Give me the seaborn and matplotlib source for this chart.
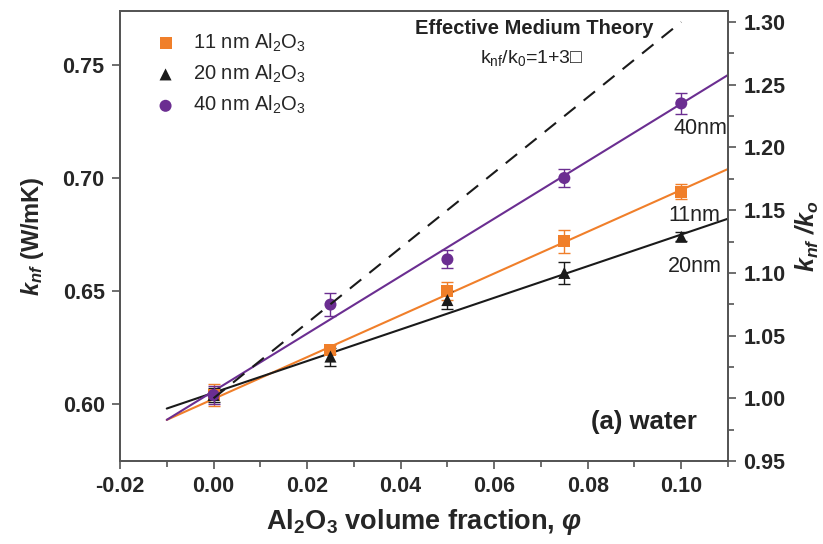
import numpy as np
import pandas as pd
import matplotlib
matplotlib.use("Agg")
import matplotlib.pyplot as plt
import seaborn as sns

# ---- data ----
phi = [0.0, 0.025, 0.05, 0.075, 0.10]
k_11 = [0.604, 0.624, 0.650, 0.672, 0.694]
k_20 = [0.604, 0.621, 0.646, 0.658, 0.674]
k_40 = [0.604, 0.644, 0.664, 0.700, 0.733]
err_11 = [0.005, 0.002, 0.004, 0.005, 0.0035]
err_20 = [0.003, 0.004, 0.004, 0.005, 0.002]
err_40 = [0.004, 0.005, 0.004, 0.004, 0.0045]

fit_x = [-0.01, 0.11]
fit_11 = [0.593, 0.704]
fit_20 = [0.598, 0.682]
fit_40 = [0.593, 0.7456]

emt_x = [0.0, 0.10]
emt_ratio = [1.0, 1.30]

labels = ["11 nm Al$_2$O$_3$", "20 nm Al$_2$O$_3$", "40 nm Al$_2$O$_3$"]
size_labels = ["11nm", "20nm", "40nm"]
x_ticks = [-0.02, 0.00, 0.02, 0.04, 0.06, 0.08, 0.10]
y_ticks = [0.60, 0.65, 0.70, 0.75]
y2_ticks = [0.95, 1.00, 1.05, 1.10, 1.15, 1.20, 1.25, 1.30]

ORANGE = "#F07F2A"
BLACK = "#1a1a1a"
PURPLE = "#6B2E91"
SPINE = "#555555"
TXT = "#222222"

sns.set_theme(style="ticks")
plt.rcParams["font.family"] = ["Liberation Sans", "DejaVu Sans"]
plt.rcParams["mathtext.fontset"] = "custom"
plt.rcParams["mathtext.rm"] = "Liberation Sans"
plt.rcParams["mathtext.it"] = "Liberation Sans:italic"
plt.rcParams["mathtext.bf"] = "Liberation Sans:bold"
plt.rcParams["mathtext.bfit"] = "Liberation Sans:italic:bold"

fig = plt.figure(figsize=(8.23, 5.44), dpi=100)
ax = fig.add_axes([0.1458, 0.1526, 0.8846 - 0.1458, 0.9798 - 0.1526])

series = [
    (k_11, err_11, fit_11, ORANGE, "s", labels[0]),
    (k_20, err_20, fit_20, BLACK, "^", labels[1]),
    (k_40, err_40, fit_40, PURPLE, "o", labels[2]),
]

# fit lines
for k, e, f, c, m, lab in series:
    sns.lineplot(x=fit_x, y=f, ax=ax, color=c, lw=1.5, legend=False)

# points + error bars
for k, e, f, c, m, lab in series:
    ax.errorbar(phi, k, yerr=e, fmt="none", ecolor=c, elinewidth=1.0,
                capsize=4, capthick=1.0, zorder=3)
    df = pd.DataFrame({"phi": phi, "k": k})
    sns.scatterplot(data=df, x="phi", y="k", ax=ax, color=c, marker=m,
                    s=75, edgecolor="none", label=lab, zorder=4)

ax.set_xlim(-0.02, 0.11)
ax.set_ylim(0.5748, 0.7739)
ax.set_xticks(x_ticks)
ax.set_xticklabels([f"{v:.2f}" for v in x_ticks])
ax.set_xticks([-0.01, 0.01, 0.03, 0.05, 0.07, 0.09, 0.11], minor=True)
ax.set_yticks(y_ticks)
ax.set_yticklabels([f"{v:.2f}" for v in y_ticks])

for sp in ax.spines.values():
    sp.set_color(SPINE)
    sp.set_linewidth(1.3)
ax.tick_params(axis="both", which="major", direction="out", length=6, width=1.2,
               color=SPINE, labelsize=15.5, pad=5)
ax.tick_params(axis="both", which="minor", direction="out", length=4, width=1.2,
               color=SPINE)
for t in ax.get_xticklabels() + ax.get_yticklabels():
    t.set_fontweight("bold")

ax.set_xlabel("Al$_\\mathbf{2}$O$_\\mathbf{3}$ volume fraction, $\\mathbfit{φ}$",
              fontsize=19.5, fontweight="bold", labelpad=7)
ax.set_ylabel("$\\mathbfit{k}_{\\mathbfit{nf}}$ (W/mK)", fontsize=17,
              fontweight="bold", labelpad=12)

leg = ax.legend(loc="upper left", frameon=False, fontsize=14.5,
                bbox_to_anchor=(0.012, 0.995), handletextpad=0.35,
                labelspacing=0.45, markerscale=1.0)

# twin axis
ax2 = ax.twinx()
ax2.set_ylim(0.95, 1.3088)
sns.lineplot(x=emt_x, y=emt_ratio, ax=ax2, color=BLACK, lw=1.5,
             dashes=False, legend=False)
ax2.lines[-1].set_linestyle((0, (7, 5)))
ax2.set_yticks(y2_ticks)
ax2.set_yticklabels([f"{v:.2f}" for v in y2_ticks])
ax2.set_yticks([0.975, 1.025, 1.075, 1.125, 1.175, 1.225, 1.275], minor=True)
for sp in ax2.spines.values():
    sp.set_color(SPINE)
    sp.set_linewidth(1.3)
ax2.tick_params(axis="y", which="major", direction="out", length=6, width=1.2,
                color=SPINE, labelsize=15.5, pad=5)
ax2.tick_params(axis="y", which="minor", direction="out", length=4, width=1.2,
                color=SPINE)
for t in ax2.get_yticklabels():
    t.set_fontweight("bold")
ax2.set_ylabel("$\\mathbfit{k}_{\\mathbfit{nf}}$ $\\mathbfit{/k}_{\\mathbfit{o}}$",
               fontsize=18, labelpad=6)

# annotations
ax.text(0.0686, 0.7660, "Effective Medium Theory", fontsize=14.5,
        fontweight="bold", ha="center", va="center", color=TXT)
ax.text(0.0680, 0.7530, "k$_\\mathrm{nf}$/k$_\\mathrm{0}$=1+3□", fontsize=14,
        ha="center", va="center", color=TXT)
ax.text(0.1040, 0.7221, size_labels[2], fontsize=15.5, ha="center", va="center",
        color=TXT)
ax.text(0.1028, 0.6836, size_labels[0], fontsize=15.5, ha="center", va="center",
        color=TXT)
ax.text(0.1030, 0.6610, size_labels[1], fontsize=15.5, ha="center", va="center",
        color=TXT)
ax.text(0.0920, 0.5920, "(a) water", fontsize=18.5, fontweight="bold",
        ha="center", va="center", color=TXT)

fig.savefig("out.png", dpi=100)
